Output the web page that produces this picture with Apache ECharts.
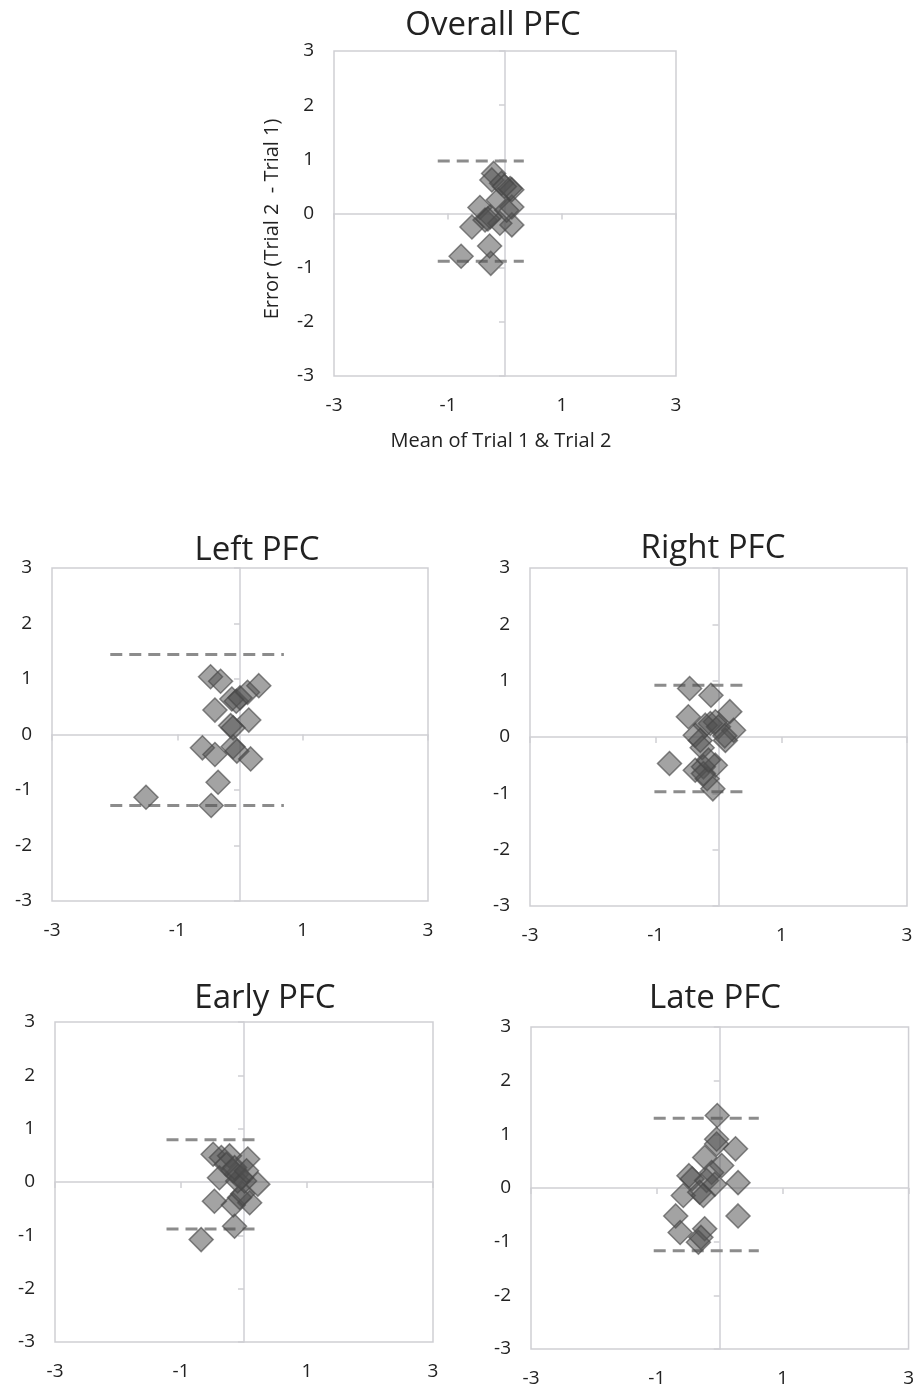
<!DOCTYPE html>
<html><head><meta charset="utf-8">
<script src="https://cdn.jsdelivr.net/npm/echarts@6/dist/echarts.min.js"></script>
<style>html,body{margin:0;padding:0;background:#fff}#c{width:917px;height:1388px}</style>
</head><body><div id="c"></div>
<script>
const panelTitles = ['Overall PFC', 'Left PFC', 'Right PFC', 'Early PFC', 'Late PFC'];
const xTickValues = [-3, -1, 1, 3];
const yTickValues = [-3, -2, -1, 0, 1, 2, 3];
const xAxisTitle = 'Mean of Trial 1 & Trial 2';
const yAxisTitle = 'Error (Trial 2  - Trial 1)';

const overallMean = [-0.77,-0.25,-0.27,0.12,-0.58,-0.44,-0.35,-0.26,-0.09,0.12,-0.12,-0.20,-0.23,-0.06,0.09,0.12,-0.01,0.03,-0.30];
const overallDiff = [-0.79,-0.92,-0.60,-0.21,-0.25,0.11,-0.12,-0.06,-0.18,0.12,0.25,0.74,0.62,0.56,0.46,0.44,0.50,0.06,-0.10];
const leftMean = [-1.50,-0.46,-0.35,-0.60,-0.40,-0.11,-0.05,0.17,-0.15,-0.11,0.14,-0.40,-0.13,-0.06,0.00,0.12,0.30,-0.47,-0.31];
const leftDiff = [-1.13,-1.28,-0.86,-0.24,-0.36,-0.22,-0.30,-0.44,0.16,0.12,0.26,0.44,0.64,0.60,0.66,0.76,0.88,1.04,0.96];
const rightMean = [-0.46,-0.12,-0.48,0.18,-0.13,-0.05,-0.21,0.00,0.24,0.11,0.10,-0.37,-0.29,-0.26,-0.78,-0.37,-0.24,-0.05,-0.18,-0.09,-0.24,-0.16];
const rightDiff = [0.86,0.74,0.36,0.45,0.24,0.27,0.21,0.18,0.12,-0.06,0.02,0.03,-0.06,-0.19,-0.47,-0.59,-0.53,-0.50,-0.74,-0.92,-0.65,-0.41];
const earlyMean = [-0.68,-0.15,-0.47,-0.17,0.09,-0.07,-0.02,-0.39,0.22,-0.12,-0.04,0.01,-0.10,-0.17,-0.49,-0.36,-0.23,0.06,-0.28,-0.15,0.04];
const earlyDiff = [-1.08,-0.83,-0.36,-0.43,-0.39,-0.29,-0.22,0.08,-0.04,0.14,0.08,0.02,0.02,0.21,0.52,0.46,0.49,0.43,0.33,0.27,0.21];
const lateMean = [-0.04,-0.05,-0.05,0.25,-0.24,0.03,-0.13,0.29,-0.49,-0.44,-0.21,-0.08,-0.58,-0.32,-0.26,0.29,-0.70,-0.63,-0.24,-0.34,-0.30];
const lateDiff = [1.35,0.91,0.82,0.73,0.57,0.42,0.29,0.10,0.23,0.17,0.14,0.07,-0.14,-0.08,-0.14,-0.52,-0.52,-0.83,-0.76,-1.01,-0.92];

// limits of agreement: [upper, lower], and x extent of the dashed lines
const overallLimits = [0.97, -0.88];
const overallLimitSpan = [-1.18, 0.33];
const leftLimits = [1.44, -1.28];
const leftLimitSpan = [-2.07, 0.70];
const rightLimits = [0.92, -0.97];
const rightLimitSpan = [-1.02, 0.41];
const earlyLimits = [0.79, -0.88];
const earlyLimitSpan = [-1.23, 0.24];
const lateLimits = [1.30, -1.17];
const lateLimitSpan = [-1.05, 0.62];

const panelMeans = [overallMean, leftMean, rightMean, earlyMean, lateMean];
const panelDiffs = [overallDiff, leftDiff, rightDiff, earlyDiff, lateDiff];
const panelLimits = [overallLimits, leftLimits, rightLimits, earlyLimits, lateLimits];
const panelSpans = [overallLimitSpan, leftLimitSpan, rightLimitSpan, earlyLimitSpan, lateLimitSpan];

// layout
const grids = [
  {left: 334, top: 51, width: 342, height: 325},
  {left: 52, top: 568, width: 376, height: 333},
  {left: 530, top: 568, width: 377, height: 338},
  {left: 55, top: 1022, width: 378, height: 320},
  {left: 531, top: 1027, width: 379, height: 322}
];
const titlePos = [[493, 26], [257, 551], [713, 549], [265, 999], [715, 999]];

const FONT = '"Open Sans", "Noto Sans", sans-serif';
const lineColor = '#cfcfd4';
const labelColor = '#222';

const xAxes = [], yAxes = [], series = [], graphics = [];
grids.forEach((g, i) => {
  // label axes (bottom / left edge)
  xAxes.push({
    gridIndex: i, type: 'value', min: xTickValues[0], max: xTickValues[xTickValues.length - 1],
    interval: xTickValues[1] - xTickValues[0], position: 'bottom',
    axisLine: {show: false, onZero: false}, axisTick: {show: false}, splitLine: {show: false},
    axisLabel: {color: labelColor, fontSize: 19, fontFamily: FONT, margin: 20}
  });
  // line axes through zero
  xAxes.push({
    gridIndex: i, type: 'value', min: xTickValues[0], max: xTickValues[xTickValues.length - 1],
    interval: xTickValues[1] - xTickValues[0], position: 'bottom',
    axisLine: {show: true, onZero: true, lineStyle: {color: lineColor, width: 1.5}},
    axisTick: {show: true, length: 6, lineStyle: {color: lineColor, width: 1.5}},
    axisLabel: {show: false}, splitLine: {show: false}
  });
  yAxes.push({
    gridIndex: i, type: 'value', min: yTickValues[0], max: yTickValues[yTickValues.length - 1],
    interval: 1, position: 'left',
    axisLine: {show: false, onZero: false}, axisTick: {show: false}, splitLine: {show: false},
    axisLabel: {color: labelColor, fontSize: 19, fontFamily: FONT, margin: 20}
  });
  yAxes.push({
    gridIndex: i, type: 'value', min: yTickValues[0], max: yTickValues[yTickValues.length - 1],
    interval: 1, position: 'left',
    axisLine: {show: true, onZero: true, lineStyle: {color: lineColor, width: 1.5}},
    axisTick: {show: true, length: 6, lineStyle: {color: lineColor, width: 1.5}},
    axisLabel: {show: false}, splitLine: {show: false}
  });
  const xi = 2 * i, yi = 2 * i;
  const lim = panelLimits[i], span = panelSpans[i];
  lim.forEach(v => {
    series.push({
      type: 'line', xAxisIndex: xi, yAxisIndex: yi, symbol: 'none', silent: true, z: 1,
      data: [[span[0], v], [span[1], v]],
      lineStyle: {color: '#8c8c8c', width: 3, type: [12, 7]}
    });
  });
  series.push({
    type: 'scatter', xAxisIndex: xi, yAxisIndex: yi, symbol: 'diamond', symbolSize: 24, z: 3,
    data: panelMeans[i].map((m, k) => [m, panelDiffs[i][k]]),
    itemStyle: {color: 'rgba(80,80,80,0.66)', borderColor: 'rgba(70,70,70,0.8)', borderWidth: 1.5},
    emphasis: {disabled: true}
  });
  graphics.push({
    type: 'text', x: titlePos[i][0], y: titlePos[i][1],
    style: {text: panelTitles[i], font: '33px ' + FONT, fill: '#222', textAlign: 'center', textVerticalAlign: 'middle'}
  });
});
graphics.push({
  type: 'text', x: 501, y: 441,
  style: {text: xAxisTitle, font: '20px ' + FONT, fill: labelColor, textAlign: 'center', textVerticalAlign: 'middle'}
});
graphics.push({
  type: 'text', x: 272, y: 219, rotation: Math.PI / 2,
  style: {text: yAxisTitle, font: '20px ' + FONT, fill: labelColor, textAlign: 'center', textVerticalAlign: 'middle'}
});

const chart = echarts.init(document.getElementById('c'), null, {renderer: 'canvas'});
chart.setOption({
  animation: false,
  backgroundColor: '#fff',
  grid: grids.map(g => Object.assign({show: true, borderColor: lineColor, borderWidth: 1.5, backgroundColor: 'transparent', containLabel: false}, g)),
  xAxis: xAxes,
  yAxis: yAxes,
  series: series,
  graphic: graphics
});
</script>
</body></html>
